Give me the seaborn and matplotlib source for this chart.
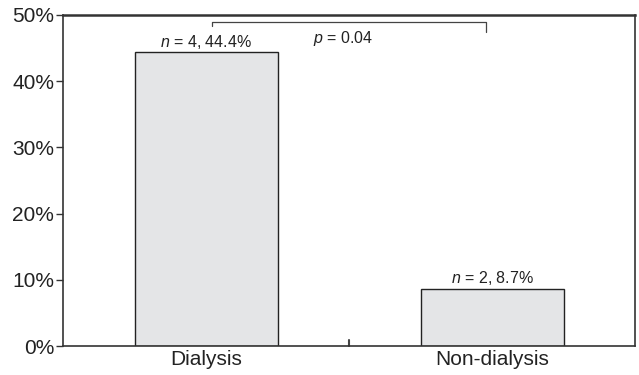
import pandas as pd
import matplotlib
matplotlib.use('Agg')
import matplotlib.pyplot as plt
import seaborn as sns

groups = ['Dialysis', 'Non-dialysis']
pct = [44.4, 8.7]
counts = [4, 2]
p_text = '$p$ = 0.04'

df = pd.DataFrame({'group': groups, 'pct': pct})

sns.set_style('white')
plt.rcParams['font.family'] = ['Liberation Sans', 'DejaVu Sans']
plt.rcParams['mathtext.fontset'] = 'custom'
plt.rcParams['mathtext.it'] = 'Liberation Sans:italic'
plt.rcParams['mathtext.rm'] = 'Liberation Sans'

fig, ax = plt.subplots(figsize=(6.39, 3.75), dpi=100)
fig.subplots_adjust(left=0.099, right=0.994, top=0.96, bottom=0.077)

sns.barplot(data=df, x='group', y='pct', color='#e4e5e7', edgecolor='#222222',
            linewidth=1.0, width=0.5, saturation=1, ax=ax)

ax.set_xlim(-0.5, 1.5)
ax.set_ylim(0, 50)
ax.set_yticks([0, 10, 20, 30, 40, 50])
ax.set_yticklabels([f'{v}%' for v in [0, 10, 20, 30, 40, 50]], fontsize=15, color='#222222')
ax.set_xticks([0, 1])
ax.set_xticklabels(groups, fontsize=15, color='#222222')
ax.tick_params(axis='x', length=0, pad=3)
ax.tick_params(axis='y', length=5, width=1, direction='out', left=True, color='#333333', pad=1.5)
ax.set_xlabel('')
ax.set_ylabel('')

# tick between the groups
ax.plot([0.5, 0.5], [0, 1.0], color='#444444', lw=1.5, clip_on=False)

for s in ax.spines.values():
    s.set_color('#333333')
    s.set_linewidth(1.2)
ax.spines['top'].set_linewidth(1.8)

for i, (n, v) in enumerate(zip(counts, pct)):
    ax.text(i, v + 0.2, f'$n$ = {n}, {v}%', ha='center', va='bottom', fontsize=11.5, color='#222222')

# bracket
x0, x1 = 0.02, 0.98
ax.plot([x0, x0, x1, x1], [48.3, 48.9, 48.9, 47.4], color='#444444', lw=0.9)
ax.text(0.48, 47.9, p_text, ha='center', va='top', fontsize=11.5, color='#222222')

fig.savefig('out.png', dpi=100)
